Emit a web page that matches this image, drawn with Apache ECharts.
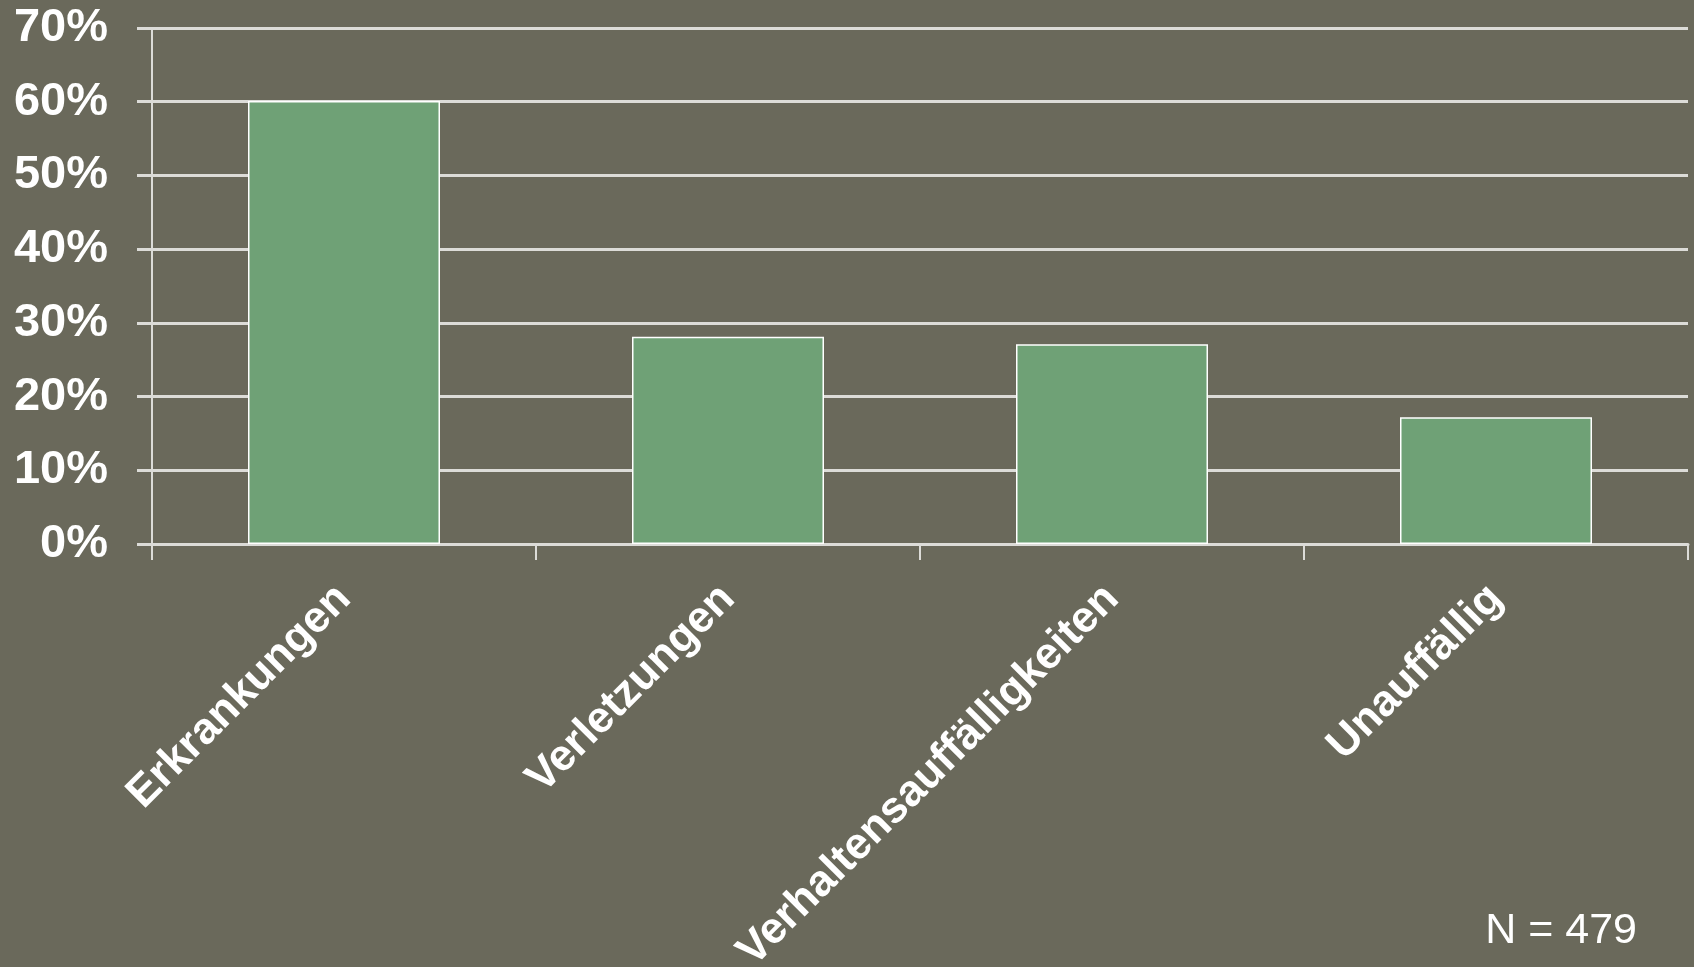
<!DOCTYPE html>
<html>
<head>
<meta charset="utf-8">
<script src="https://cdn.jsdelivr.net/npm/echarts@6/dist/echarts.min.js"></script>
<style>
  html, body { margin: 0; padding: 0; background: #6a695b; }
  #chart { width: 1694px; height: 967px; }
</style>
</head>
<body>
<div id="chart"></div>
<script>
  // chart data
  var categories = ['Erkrankungen', 'Verletzungen', 'Verhaltensauffälligkeiten', 'Unauffällig'];
  var shares = [60.1, 28.1, 27.1, 17.2];
  var sampleNote = 'N = 479';

  var font = '"Liberation Sans", Arial, sans-serif';
  var lineColor = '#dcdcd8';

  var chart = echarts.init(document.getElementById('chart'));

  var option = {
    backgroundColor: '#6a695b',
    animation: false,
    grid: { left: 152, right: 6, top: 28, bottom: 423, containLabel: false, outerBoundsMode: 'none' },
    graphic: [{
      type: 'text',
      right: 57,
      bottom: 14,
      style: { text: sampleNote, fill: '#ffffff', font: '43px ' + font }
    }],
    xAxis: {
      type: 'category',
      data: categories,
      axisLine: { show: true, lineStyle: { color: lineColor, width: 3 } },
      axisTick: { show: true, length: 16, lineStyle: { color: lineColor, width: 2 } },
      axisLabel: {
        rotate: 45,
        margin: 48,
        color: '#ffffff',
        fontFamily: font,
        fontWeight: 'bold',
        fontSize: 44,
        interval: 0
      },
      splitLine: { show: false }
    },
    yAxis: {
      type: 'value',
      min: 0,
      max: 70,
      interval: 10,
      axisLine: { show: true, lineStyle: { color: lineColor, width: 2 } },
      axisTick: { show: true, length: 15, lineStyle: { color: lineColor, width: 3 } },
      axisLabel: {
        formatter: '{value}%',
        margin: 44,
        color: '#ffffff',
        fontFamily: font,
        fontWeight: 'bold',
        fontSize: 47
      },
      splitLine: { show: true, lineStyle: { color: lineColor, width: 3 } }
    },
    series: [{
      type: 'bar',
      data: shares,
      barWidth: '50%',
      itemStyle: { color: '#6fa176', borderColor: '#ffffff', borderWidth: 1.5 }
    }]
  };

  chart.setOption(option);
</script>
</body>
</html>
